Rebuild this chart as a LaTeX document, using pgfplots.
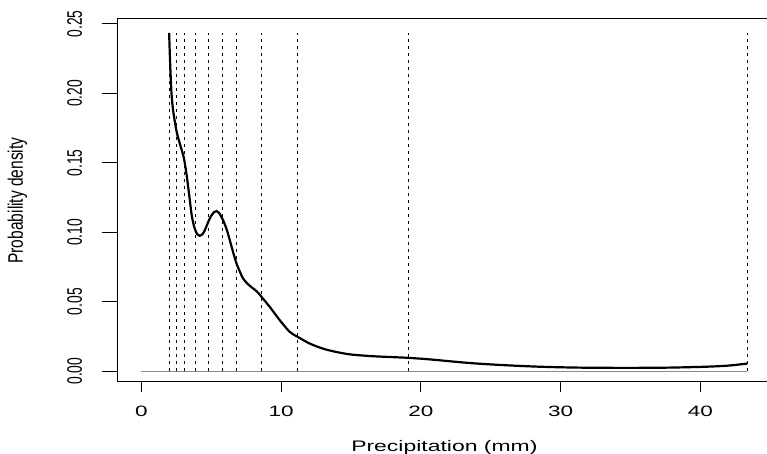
\documentclass[border=0pt]{standalone}
\usepackage{pgfplots}
\pgfplotsset{compat=1.18}
\usepackage{fontspec}
\setmainfont{Liberation Sans}
\newfontfamily\hfont{Liberation Sans}[FakeStretch=1.5]
\newfontfamily\vfont{Liberation Sans}[FakeStretch=0.66]
\newfontfamily\vlfont{Liberation Sans}[FakeStretch=0.74]

\pgfplotsset{
  common/.style={
    at={(117pt,72pt)}, anchor=south west,
    scale only axis, width=654.7pt, height=363pt,
    xmin=-1.75, xmax=45.1, ymin=-0.0078, ymax=0.2536,
    axis line style={line width=1pt},
    tick style={line width=1pt, black},
    tick align=outside,
    /pgf/number format/assume math mode=true,
  }
}

\begin{document}
\begin{tikzpicture}
\path[use as bounding box] (0,0) rectangle (767pt,454pt);
% main axis with x ticks
\begin{axis}[common,
  major tick length=10pt,
  xtick={0,10,20,30,40},
  xtick pos=bottom,
  ytick=\empty,
  xticklabel style={font=\hfont\fontsize{15}{18}\selectfont, anchor=base, yshift=-24pt},
  xlabel={Precipitation (mm)},
  every axis x label/.style={at={(axis description cs:0.5,0)}, anchor=base, yshift=-69.5pt, font=\hfont\fontsize{15.3}{18}\selectfont},
  unbounded coords=jump,
]
% zero line
\addplot[black!45, line width=1.1pt] coordinates {(0,0) (43.36,0)};
% quantile lines
\addplot[black, line width=0.9pt, dash pattern=on 3.5pt off 3.5pt] coordinates {
(1.98,0) (1.98,0.2436) (1.98,nan)
(2.48,0) (2.48,0.2436) (2.48,nan)
(3.10,0) (3.10,0.2436) (3.10,nan)
(3.89,0) (3.89,0.2436) (3.89,nan)
(4.77,0) (4.77,0.2436) (4.77,nan)
(5.80,0) (5.80,0.2436) (5.80,nan)
(6.80,0) (6.80,0.2436) (6.80,nan)
(8.59,0) (8.59,0.2436) (8.59,nan)
(11.18,0) (11.18,0.2436) (11.18,nan)
(19.08,0) (19.08,0.2436) (19.08,nan)
(43.36,0) (43.36,0.2436)
};
% density curve
\addplot[black, line width=2.2pt, smooth, tension=0.5] coordinates {
(1.98,0.2436) (2.03,0.228) (2.08,0.215) (2.15,0.200) (2.25,0.189)
(2.40,0.179) (2.55,0.171) (2.80,0.162) (3.00,0.155) (3.10,0.150)
(3.25,0.140) (3.46,0.1232) (3.60,0.112) (3.80,0.103) (4.00,0.0985)
(4.17,0.0975) (4.40,0.0990) (4.60,0.1030) (4.80,0.1080) (5.00,0.1120)
(5.20,0.1145) (5.37,0.1153) (5.55,0.1140) (5.70,0.1115) (5.84,0.1088)
(6.10,0.1020) (6.32,0.0944) (6.55,0.0860) (6.80,0.0776) (7.05,0.0715)
(7.27,0.0668) (7.60,0.0628) (7.99,0.0596) (8.30,0.0570) (8.59,0.0535)
(9.18,0.0463) (9.90,0.0367) (10.61,0.0283) (11.18,0.0247) (12.04,0.0199)
(13.0,0.0162) (14.0,0.0137) (15.0,0.0120) (16.5,0.0108) (18.0,0.0101)
(19.08,0.0096) (20.5,0.0086) (22.0,0.0072) (23.7,0.0057) (26.0,0.0043)
(28.5,0.0032) (31.0,0.0026) (33.3,0.0024) (36.0,0.0024) (38.0,0.0026)
(40.4,0.0032) (42.0,0.0040) (43.36,0.0055)
};
\end{axis}
% overlay axis with y ticks
\begin{axis}[common,
  hide x axis,
  axis y line*=left,
  major tick length=15pt,
  ytick={0,0.05,0.10,0.15,0.20,0.25},
  yticklabel style={font=\vfont\fontsize{21}{24}\selectfont, /pgf/number format/fixed, /pgf/number format/fixed zerofill, /pgf/number format/precision=2, xshift=-20pt, rotate=90, anchor=base},
  ylabel={Probability density},
  every axis y label/.style={at={(axis description cs:0,0.5)}, xshift=-94pt, rotate=90, anchor=base, font=\vlfont\fontsize{21}{24}\selectfont},
]
\end{axis}
\end{tikzpicture}
\end{document}
